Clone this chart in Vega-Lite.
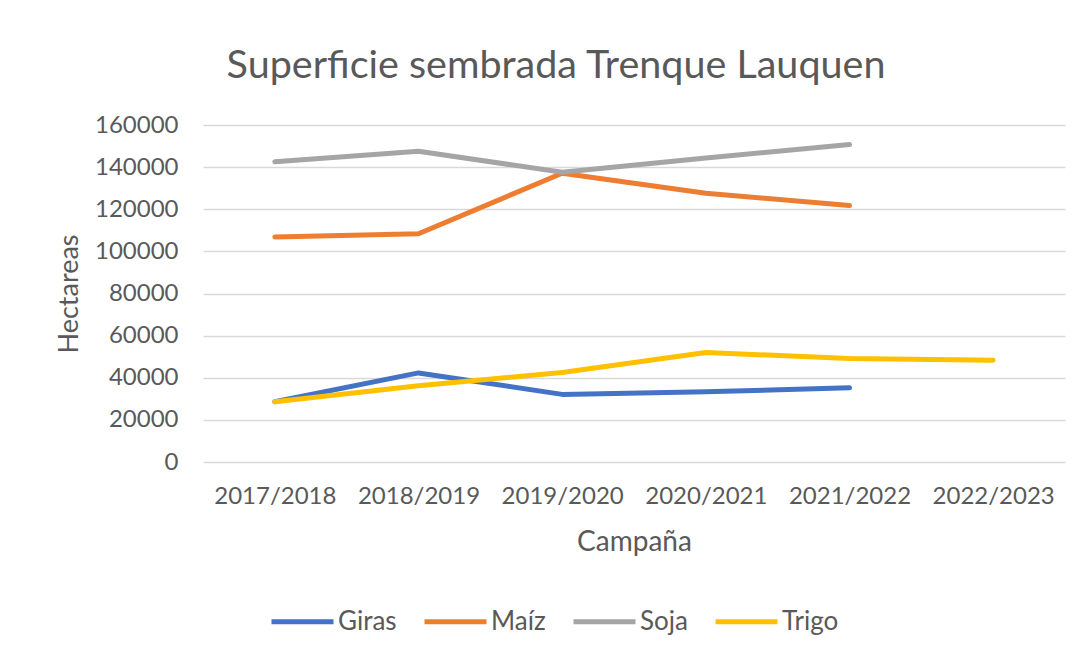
{
  "$schema": "https://vega.github.io/schema/vega-lite/v6.json",
  "width": 862,
  "height": 337,
  "autosize": {"type": "none"},
  "padding": {"left": 203, "top": 125, "right": 23, "bottom": 194},
  "background": "white",
  "title": {
    "text": "Superficie sembrada Trenque Lauquen",
    "font": "Lato",
    "fontSize": 39.5,
    "fontWeight": "normal",
    "color": "#595959",
    "anchor": "middle",
    "dx": -78,
    "offset": 27
  },
  "data": {
    "values": [
      {"campana": "2017/2018", "cultivo": "Giras", "ha": 28600},
      {"campana": "2018/2019", "cultivo": "Giras", "ha": 42300},
      {"campana": "2019/2020", "cultivo": "Giras", "ha": 32100},
      {"campana": "2020/2021", "cultivo": "Giras", "ha": 33300},
      {"campana": "2021/2022", "cultivo": "Giras", "ha": 35200},
      {"campana": "2017/2018", "cultivo": "Maíz", "ha": 106800},
      {"campana": "2018/2019", "cultivo": "Maíz", "ha": 108400},
      {"campana": "2019/2020", "cultivo": "Maíz", "ha": 137100},
      {"campana": "2020/2021", "cultivo": "Maíz", "ha": 127600},
      {"campana": "2021/2022", "cultivo": "Maíz", "ha": 121800},
      {"campana": "2017/2018", "cultivo": "Soja", "ha": 142500},
      {"campana": "2018/2019", "cultivo": "Soja", "ha": 147500},
      {"campana": "2019/2020", "cultivo": "Soja", "ha": 137600},
      {"campana": "2020/2021", "cultivo": "Soja", "ha": 144300},
      {"campana": "2021/2022", "cultivo": "Soja", "ha": 150700},
      {"campana": "2017/2018", "cultivo": "Trigo", "ha": 28600},
      {"campana": "2018/2019", "cultivo": "Trigo", "ha": 36200},
      {"campana": "2019/2020", "cultivo": "Trigo", "ha": 42500},
      {"campana": "2020/2021", "cultivo": "Trigo", "ha": 52000},
      {"campana": "2021/2022", "cultivo": "Trigo", "ha": 49100},
      {"campana": "2022/2023", "cultivo": "Trigo", "ha": 48300}
    ]
  },
  "mark": {"type": "line", "strokeWidth": 5, "strokeCap": "round", "strokeJoin": "round"},
  "encoding": {
    "x": {
      "field": "campana",
      "type": "ordinal",
      "sort": ["2017/2018", "2018/2019", "2019/2020", "2020/2021", "2021/2022", "2022/2023"],
      "scale": {"domain": ["2017/2018", "2018/2019", "2019/2020", "2020/2021", "2021/2022", "2022/2023"], "type": "point", "padding": 0.5},
      "title": "Campaña",
      "axis": {
        "labelAngle": 0,
        "labelFont": "Lato",
        "labelFontSize": 24,
        "labelColor": "#595959",
        "labelPadding": 22,
        "ticks": false,
        "domain": false,
        "grid": false,
        "titleFont": "Lato",
        "titleFontSize": 28,
        "titleFontWeight": "normal",
        "titleColor": "#595959",
        "titlePadding": 20
      }
    },
    "y": {
      "field": "ha",
      "type": "quantitative",
      "scale": {"domain": [0, 160000], "nice": false},
      "title": "Hectareas",
      "axis": {
        "values": [0, 20000, 40000, 60000, 80000, 100000, 120000, 140000, 160000],
        "format": "d",
        "labelFont": "Lato",
        "labelFontSize": 24,
        "labelColor": "#595959",
        "labelPadding": 25,
        "ticks": false,
        "domain": false,
        "grid": true,
        "gridColor": "#d9d9d9",
        "gridWidth": 1.5,
        "titleFont": "Lato",
        "titleFontSize": 27,
        "titleFontWeight": "normal",
        "titleColor": "#595959",
        "titlePadding": 11
      }
    },
    "color": {
      "field": "cultivo",
      "type": "nominal",
      "scale": {"domain": ["Giras", "Maíz", "Soja", "Trigo"], "range": ["#4472C4", "#ED7D31", "#A5A5A5", "#FFC000"]},
      "legend": {
        "title": null,
        "orient": "none",
        "direction": "horizontal",
        "legendX": 66,
        "legendY": 463,
        "symbolType": "stroke",
        "symbolSize": 3844,
        "symbolStrokeWidth": 5,
        "labelFont": "Lato",
        "labelFontSize": 26,
        "labelColor": "#595959",
        "labelOffset": 2,
        "columnPadding": 17
      }
    }
  },
  "config": {"view": {"stroke": null}}
}
